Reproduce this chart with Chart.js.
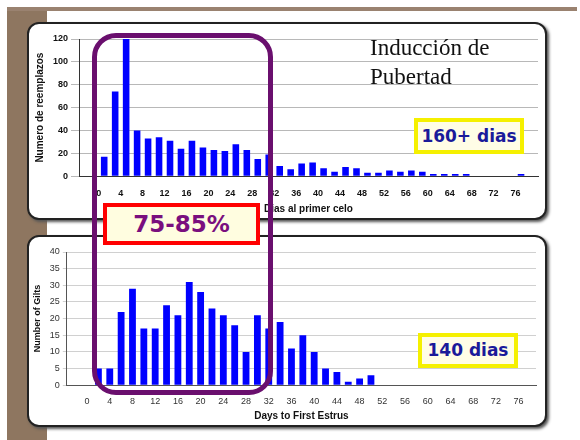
<!DOCTYPE html>
<html>
<head>
<meta charset="utf-8">
<script src="https://cdn.jsdelivr.net/npm/chart.js@4.4.0/dist/chart.umd.min.js"></script>
<style>
  body { margin: 0; width: 580px; height: 440px; background: #fff; position: relative; overflow: hidden; font-family: Arial, sans-serif; }
  .strip { position: absolute; left: 7px; top: 7px; width: 40px; height: 433px; background: #8e7660; }
  .topband { position: absolute; left: 7px; top: 7px; width: 570px; height: 4px; background: #9a8270; }
  .panel { position: absolute; background: #fff; border: 2px solid #222; border-radius: 12px; box-shadow: 2px 2px 3px #555; }
  canvas { position: absolute; }
  .title { position: absolute; left: 370px; top: 33px; font-family: 'Liberation Serif', serif; font-size: 23px; line-height: 29px; color: #111; }
  .ybox { position: absolute; border: 4px solid #f5f000; background: #fffde6; color: #1a1a9a; font-family: 'DejaVu Sans', sans-serif; font-weight: bold; font-size: 17px; text-align: center; }
  .purple { position: absolute; left: 92px; top: 33px; width: 171px; height: 352px; border: 5px solid #6a0f6e; border-radius: 24px; }
  .red { position: absolute; left: 103px; top: 203px; width: 149px; height: 34px; border: 4px solid #f00; background: #fffde0; color: #7a0f7e; font-family: 'DejaVu Sans', sans-serif; font-weight: bold; font-size: 23px; line-height: 34px; text-align: center; }
</style>
</head>
<body>
<div class="strip"></div>
<div class="topband"></div>
<div class="panel" style="left:27px;top:22px;width:516px;height:194px;"></div>
<div class="panel" style="left:27px;top:235px;width:516px;height:188px;"></div>
<canvas id="top" width="520" height="195" style="left:28px;top:24px;width:520px;height:195px;"></canvas>
<canvas id="bottom" width="520" height="190" style="left:28px;top:236px;width:520px;height:190px;"></canvas>
<div class="title">Inducción de<br>Pubertad</div>
<div class="ybox" style="left:414px;top:118px;width:102px;height:28px;line-height:28px;">160+ dias</div>
<div class="ybox" style="left:418px;top:333px;width:92px;height:27px;line-height:27px;">140 dias</div>
<div class="purple"></div>
<div class="red">75-85%</div>
<script>
// Top chart: replacements by days to first heat
const topDays = [1,3,5,7,9,11,13,15,17,19,21,23,25,27,29,31,33,35,37,39,41,43,45,47,49,51,53,55,57,59,61,63,65,67,77];
const topCounts = [17,74,120,40,33,34,31,24,31,25,23,22,28,23,15,19,9,6,11,12,7,4,8,7,3,3,5,4,5,4,2,2,2,2,2];
const topTicks = [0,4,8,12,16,20,24,28,32,36,40,44,48,52,56,60,64,68,72,76];

// Bottom chart: gilts by days to first estrus
const botDays = [2,4,6,8,10,12,14,16,18,20,22,24,26,28,30,32,34,36,38,40,42,44,46,48,50];
const botCounts = [5,5,22,29,17,17,24,21,31,28,23,21,18,10,21,17,19,11,15,10,5,4,1,2,3];

Chart.defaults.animation = false;
Chart.defaults.font.family = 'Arial, sans-serif';

new Chart(document.getElementById('top'), {
    type: 'bar',
    data: { datasets: [{ data: topDays.map((d, i) => ({ x: d, y: topCounts[i] })), backgroundColor: '#0000ff', barPercentage: 0.6, categoryPercentage: 1 }] },
    options: {
        responsive: false,
        layout: { padding: { left: 2, right: 10, top: 15, bottom: 0 } },
        plugins: { legend: { display: false }, tooltip: { enabled: false } },
        scales: {
            x: {
                type: 'linear', min: -1.5, max: 78,
                afterBuildTicks: s => { s.ticks = topTicks.map(v => ({ value: v })); },
                ticks: { color: '#111', font: { size: 9, weight: 'bold' }, padding: 4 },
                grid: { display: false },
                border: { color: '#333' },
                title: { display: true, text: 'Dias al primer celo', color: '#111', font: { size: 10, weight: 'bold' }, padding: { top: 0 } }
            },
            y: {
                min: 0, max: 120,
                ticks: { stepSize: 20, color: '#111', font: { size: 9, weight: 'bold' } },
                grid: { color: '#b8b8b8' },
                border: { color: '#333' },
                title: { display: true, text: 'Numero de reemplazos', color: '#111', font: { size: 10, weight: 'bold' } }
            }
        }
    }
});

new Chart(document.getElementById('bottom'), {
    type: 'bar',
    data: { datasets: [{ data: botDays.map((d, i) => ({ x: d, y: botCounts[i] })), backgroundColor: '#0000ff', barPercentage: 0.6, categoryPercentage: 1 }] },
    options: {
        responsive: false,
        layout: { padding: { left: 0, right: 12, top: 16, bottom: 0 } },
        plugins: { legend: { display: false }, tooltip: { enabled: false } },
        scales: {
            x: {
                type: 'linear', min: -1.5, max: 77,
                afterBuildTicks: s => { s.ticks = topTicks.map(v => ({ value: v })); },
                ticks: { color: '#333', font: { size: 9 }, padding: 3 },
                grid: { display: false },
                border: { color: '#555' },
                title: { display: true, text: 'Days to First Estrus', color: '#111', font: { size: 10, weight: 'bold' }, padding: { top: 0 } }
            },
            y: {
                min: 0, max: 40,
                ticks: { stepSize: 5, color: '#333', font: { size: 9 } },
                grid: { color: '#d0d0d0', tickLength: 4 },
                border: { color: '#555', dash: [] },
                title: { display: true, text: 'Number of Gilts', color: '#111', font: { size: 9, weight: 'bold' } }
            }
        }
    }
});
</script>
</body>
</html>
